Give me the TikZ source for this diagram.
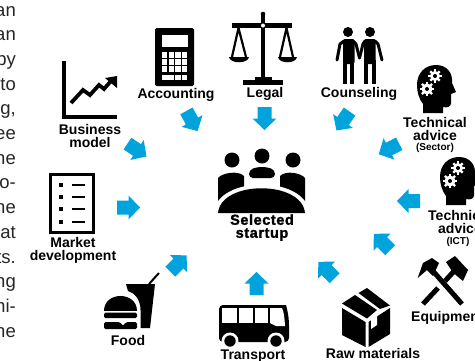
\documentclass[tikz,border=0pt]{standalone}
\usepackage{fontspec}
\setmainfont{Liberation Sans}
\newfontfamily\heavyfont[BoldFeatures={FakeBold=1.5,LetterSpace=4}]{Liberation Sans}
\newfontfamily\paratext{Liberation Sans}
\begin{document}
\begin{tikzpicture}[x=1pt,y=-1pt,
  lbl/.style={font=\bfseries\fontsize{14}{13}\selectfont,align=center,inner sep=0pt,text=black},
  lblbig/.style={font=\heavyfont\bfseries\fontsize{14.5}{13}\selectfont,align=center,inner sep=0pt,text=black},
  lblsmall/.style={font=\bfseries\fontsize{10}{11}\selectfont,inner sep=0pt,text=black},
  para/.style={font=\paratext\fontsize{18.5}{18}\selectfont,anchor=base east,inner sep=0pt,text=black!85},
  barrow/.pic={\fill[arrowblue] (-11.5,-7)--(0,-7)--(0,-12)--(11.5,0)--(0,12)--(0,7)--(-11.5,7)--cycle;},
  headgear/.pic={
    \fill[black] (423,113)--(423,104) .. controls (419,99) and (417,92) .. (417,85)
      .. controls (417,73) and (425,65) .. (436,65)
      .. controls (447,65) and (453,73) .. (452,83)
      -- (456,92) -- (451,94) -- (451,103) .. controls (451,107) and (447,108) .. (443,107) -- (443,113) -- cycle;
    \foreach \cx/\cy/\r in {435/76/5,427/89/5.5}{
      \foreach \a in {0,45,...,315}{
        \draw[white,line width=2.4] (\cx,\cy) -- ++(\a:\r+1.6);
      }
      \fill[white] (\cx,\cy) circle[radius=\r];
      \fill[black] (\cx,\cy) circle[radius=2];
    }
  }]
\definecolor{arrowblue}{HTML}{00A3DC}
\useasboundingbox (0,0) rectangle (475,360);
\fill[white] (0,0) rectangle (475,360);

% paragraph fragments
\foreach \t [count=\i from 0] in {an,an,by,to,{g,},ee,he,o-,he,at,ts.,ng,mi-,he}{
  \node[para] (para\i) at (16,16+24.7*\i) {\t};
}

% calculator
\fill[black,rounded corners=1.5] (155,28) rectangle (194,86);
\fill[white] (162,35) rectangle (188,47);
\foreach \c in {0,1,2,3}{\foreach \r in {0,1,2}{
  \fill[white] (162+\c*6.7,52+\r*7) rectangle (167.2+\c*6.7,57.5+\r*7);}}
\fill[white] (162,74.5) rectangle (173.5,80);
\fill[white] (175.4,74.5) rectangle (180.6,80);
\fill[white] (182.1,74.5) rectangle (187.3,80);
\node[lbl] (accounting) at (176,95) {Accounting};

% chart
\draw[black,line width=3.8,line cap=butt] (63.7,61)--(63.7,117.2)--(117,117.2);
\draw[black,line width=3.8,line join=miter] (71,103)--(83,90)--(90,95)--(99,85)--(104,89)--(111,81);
\fill[black] (105,78)--(117,76)--(117,88)--cycle;
\node[lbl] (business) at (90,135.5) {Business\\model};

% scale
\fill[black] (260.7,15) rectangle (265.3,80);
\fill[black] (263,14) circle[radius=2.3];
\fill[black] (232,23) rectangle (292,28);
\fill[white] (263,25.5) circle[radius=2];
\fill[black] (255,77) rectangle (272,81);
\fill[black] (243,80) rectangle (283,84.5);
\draw[black,line width=2.2] (280,57)--(286.5,28)--(293,57);
\draw[black,line width=2.2] (232,57)--(238.5,28)--(246,57);
\fill[black] (278,57) -- (297,57) .. controls (296,64) and (279,64) .. (278,57) -- cycle;
\fill[black] (229,57) -- (249,57) .. controls (248,64) and (230,64) .. (229,57) -- cycle;
\node[lbl] (legal) at (265,94) {Legal};

% counseling
\fill[black] (348,32) circle[radius=5];
\fill[black] (370,32) circle[radius=5];
\fill[black,rounded corners=2] (343,39) rectangle (354.5,64);
\fill[black,rounded corners=2] (364,39) rectangle (375.7,64);
\fill[black] (343.3,60) rectangle (347.3,84);
\fill[black] (350,60) rectangle (354,84);
\fill[black] (364.3,60) rectangle (368.3,84);
\fill[black] (371.7,60) rectangle (375.7,84);
\draw[black,line width=3,line cap=round,line join=round] (344,41)--(340,44)--(337,60);
\draw[black,line width=3,line cap=round,line join=round] (353,41)--(356,44)--(359.5,58);
\draw[black,line width=3,line cap=round,line join=round] (365,41)--(363,44)--(359.5,58);
\draw[black,line width=3,line cap=round,line join=round] (375,41)--(378,44)--(382,60);
\node[lbl] (counseling) at (359,94) {Counseling};

% heads
\pic (headsector) at (0,0) {headgear};
\node[lbl] (techsector) at (435,128.5) {Technical\\advice};
\node[lblsmall] (sector) at (435,148) {(Sector)};
\pic (headict) at (23,92) {headgear};
\node[lbl] (techict) at (460,222) {Technical\\advice};
\node[lblsmall] (ict) at (458,242) {(ICT)};

% centre
\fill[black] (232,160) circle[radius=7.5];
\fill[black] (262,156) circle[radius=7.5];
\fill[black] (293,160) circle[radius=7.5];
\fill[black,rounded corners=4] (249,178)--(249,170)--(257,167)--(267,167)--(275,170)--(275,178)--cycle;
\fill[black] (218,205)--(218,178) .. controls (222,173) and (238,170) .. (244,176)--(244,190)--cycle;
\fill[black] (305,205)--(305,178) .. controls (301,173) and (286,170) .. (280,176)--(280,190)--cycle;
\fill[white] (213.5,213) .. controls (217,175) and (306,175) .. (309.5,213) -- cycle;
\fill[black] (218,213) .. controls (221,180) and (302,180) .. (305,213) -- cycle;
\node[lblbig] (selected) at (262,227.5) {Selected\\startup};

% checklist
\draw[black,line width=3] (50.5,174.5) rectangle (93.5,232);
\foreach \y in {185,197,209,222}{
  \fill[black] (59,\y-2) rectangle (63,\y+2);
  \draw[black,line width=1.6] (72,\y)--(85,\y);
}
\node[lbl] (market) at (73,250.5) {Market\\development};

% food
\fill[black] (126,284)--(155,284)--(150,328)--(140.5,328)--(140.5,310) .. controls (140.5,300) and (135,293) .. (128,291)--cycle;
\draw[black,line width=2] (149,284)--(159,273);
\fill[black] (104,311) .. controls (104,291) and (137,291) .. (137,311) -- cycle;
\fill[black,rounded corners=1.5] (104,312.5) rectangle (137,318);
\fill[black,rounded corners=1.5] (104,322) -- (120,322) -- (123,326) -- (126,322) -- (137,322) -- (137,329) -- (104,329) -- cycle;
\node[lbl] (food) at (128,340) {Food};

% bus
\fill[black,rounded corners=4] (219,305) -- (282,305) .. controls (286,305) and (288,312) .. (289,322) -- (289,342) -- (219,342) -- cycle;
\fill[white] (222,308) rectangle (236.5,323);
\fill[white] (238.5,308) rectangle (253,323);
\fill[white] (254.5,308) rectangle (268,323);
\fill[white] (270,308) -- (282,308) .. controls (284,312) and (284.5,318) .. (285,326) -- (276,326) -- (270,323) -- cycle;
\foreach \x in {230,276}{
  \fill[white] (\x,341) circle[radius=8.5];
  \fill[black] (\x,341) circle[radius=5.7];
}
\node[lbl] (transport) at (253,356.5) {Transport};

% box
\fill[black] (342,308)--(365.5,322)--(365.5,347)--(342,335)--cycle;
\fill[black] (368.5,322)--(390,308)--(390,334)--(368.5,347)--cycle;
\fill[white] (371,319)--(377,316)--(377,325)--(371,329)--cycle;
\fill[black] (342,303.5)--(355,295)--(377,310)--(367,318.5)--cycle;
\fill[black] (358.5,293)--(367,288)--(390,305.5)--(380,309)--cycle;
\node[lbl] (raw) at (373,353.5) {Raw materials};

% hammers
\draw[black,line width=5] (423,304)--(438,288);
\draw[black,line width=5] (445,281)--(456,269);
\fill[black] (446,262)--(455,256)--(468,270)--(463,281)--(457,276)--(452,271)--cycle;
\draw[black,line width=5] (462,304)--(432,270);
\fill[black] (417.7,278)--(423,263)--(432,258)--(439,263)--(433,276)--(427,270)--cycle;
\node[lbl,anchor=west] (equipment) at (411,318) {Equipment};

% blue arrows
\pic (arrowbusiness) [rotate=-34] at (137,150) {barrow};
\pic (arrowaccounting) [rotate=-61] at (192,121) {barrow};
\pic (arrowlegal) [rotate=-90] at (264.5,118.5) {barrow};
\pic (arrowcounseling) [rotate=-125] at (343,121) {barrow};
\pic (arrowsector) [rotate=207] at (389,149) {barrow};
\pic (arrowict) [rotate=180] at (408.5,201) {barrow};
\pic (arrowequip) [rotate=135] at (382,242) {barrow};
\pic (arrowraw) [rotate=135] at (326.5,270) {barrow};
\pic (arrowtransport) [rotate=90] at (256.5,283.5) {barrow};
\pic (arrowfood) [rotate=45] at (178.5,263.5) {barrow};
\pic (arrowmarket) at (128.5,207.5) {barrow};
\end{tikzpicture}
\end{document}
